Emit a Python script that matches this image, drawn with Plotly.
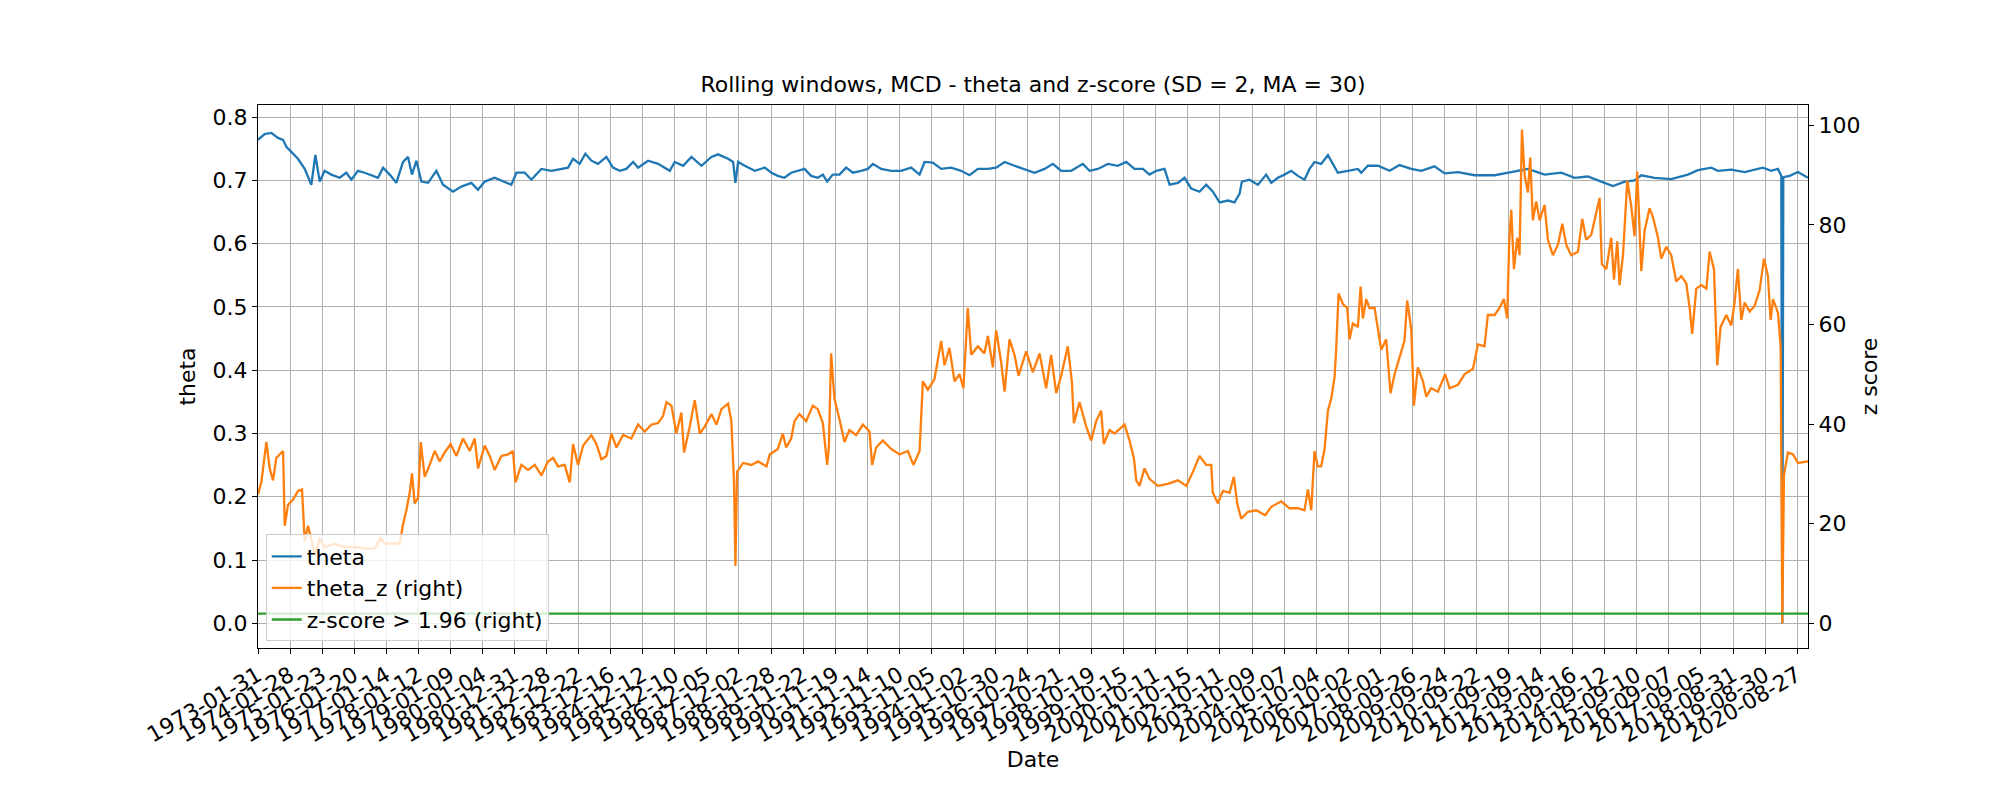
import plotly.graph_objects as go

# trading-day index (0 = 1973-01-31) and rolling theta
theta_day = [0, 52, 105, 157, 197, 223, 262, 314, 367, 419, 451, 485, 524, 576, 642, 694, 734, 786,
             838, 904, 943, 983, 1035, 1087, 1140, 1179, 1210, 1245, 1284, 1336, 1402, 1454, 1533,
             1598, 1677, 1729, 1782, 1860, 1939, 1991, 2031, 2096, 2148, 2227, 2306, 2384, 2437,
             2476, 2528, 2573, 2620, 2672, 2738, 2790, 2843, 2895, 2948, 2987, 3065, 3144, 3236,
             3275, 3341, 3406, 3485, 3563, 3616, 3694, 3734, 3752, 3773, 3825, 3904, 3982, 4035,
             4085, 4137, 4190, 4242, 4295, 4347, 4399, 4439, 4473, 4517, 4570, 4622, 4675, 4740,
             4792, 4832, 4897, 4976, 5054, 5133, 5199, 5238, 5303, 5369, 5447, 5526, 5592, 5657,
             5736, 5801, 5867, 5945, 6024, 6102, 6181, 6247, 6312, 6391, 6482, 6535, 6600, 6679,
             6757, 6823, 6888, 6954, 7006, 7059, 7124, 7164, 7229, 7281, 7334, 7399, 7452, 7504,
             7557, 7622, 7674, 7714, 7732, 7792, 7858, 7923, 7963, 8015, 8067, 8120,
             8172, 8224, 8264, 8303, 8355, 8408, 8447, 8486, 8565, 8644, 8670, 8722, 8801, 8893,
             8971, 9063, 9141, 9246, 9325, 9430, 9561, 9718, 9849, 9980, 10111, 10242, 10347,
             10451, 10556, 10648, 10740, 10818, 10871, 10975, 11106, 11237, 11316, 11421, 11473,
             11578, 11683, 11827, 11892, 11945, 11971, 11979, 11987, 12037, 12102, 12181]
theta_val = [0.764, 0.773, 0.775, 0.767, 0.764, 0.753, 0.745, 0.734, 0.718, 0.693, 0.740, 0.698,
             0.715, 0.709, 0.704, 0.712, 0.701, 0.715, 0.712, 0.707, 0.704, 0.720, 0.709, 0.696,
             0.729, 0.737, 0.709, 0.731, 0.698, 0.696, 0.715, 0.693, 0.682, 0.690, 0.696, 0.685,
             0.698, 0.704, 0.698, 0.693, 0.712, 0.712, 0.701, 0.718, 0.715, 0.718, 0.720, 0.734,
             0.726, 0.742, 0.731, 0.726, 0.737, 0.720, 0.715, 0.718, 0.729, 0.720, 0.731, 0.726,
             0.715, 0.729, 0.723, 0.737, 0.723, 0.737, 0.741, 0.734, 0.729, 0.696, 0.729, 0.723,
             0.715, 0.720, 0.712,
             0.707, 0.704, 0.712, 0.715, 0.718, 0.707, 0.704, 0.709, 0.698, 0.709, 0.709, 0.720,
             0.712, 0.715, 0.718, 0.726, 0.718, 0.715, 0.715, 0.720, 0.709, 0.729, 0.728, 0.718,
             0.720, 0.715, 0.708, 0.718, 0.718, 0.720, 0.729, 0.723, 0.718, 0.712, 0.718, 0.726,
             0.715, 0.715, 0.726, 0.715, 0.718, 0.726, 0.723, 0.729, 0.718, 0.718, 0.709, 0.715,
             0.718, 0.693, 0.696, 0.704, 0.687, 0.682, 0.693, 0.682, 0.665, 0.668, 0.665, 0.679,
             0.698, 0.701, 0.693, 0.709, 0.696, 0.704, 0.709, 0.715,
             0.707, 0.701, 0.718, 0.729, 0.726, 0.740, 0.726, 0.712, 0.715, 0.718, 0.712, 0.723,
             0.723, 0.715, 0.724, 0.718, 0.715, 0.722, 0.711, 0.713, 0.708, 0.708, 0.713, 0.718,
             0.709, 0.712, 0.704, 0.706, 0.698, 0.691, 0.698, 0.700, 0.708, 0.704, 0.702, 0.709,
             0.716, 0.720, 0.715, 0.717, 0.713, 0.720, 0.715, 0.718, 0.707, 0.0, 0.705, 0.707,
             0.713, 0.704]

# z-score of theta, same day index
z_day = [0, 26, 66, 92, 118, 144, 170, 197, 210, 236, 275, 314, 346, 367, 393, 419, 451, 485, 524,
         603, 681, 760, 838, 917, 964, 996, 1048, 1114, 1140, 1166, 1192, 1210, 1231, 1258, 1279,
         1310, 1349, 1389, 1428, 1467, 1514, 1559, 1611, 1664, 1703, 1729, 1782, 1821, 1860, 1913,
         1965, 2004, 2023, 2070, 2122, 2175, 2227, 2279, 2319, 2358, 2410, 2450, 2476, 2515, 2555,
         2620, 2659, 2699, 2738, 2777, 2817, 2869, 2934, 2987, 3039, 3092, 3144, 3183, 3210, 3249,
         3288, 3327, 3348, 3393, 3432, 3472, 3511, 3563, 3603, 3642, 3694, 3720, 3741, 3752, 3765,
         3812, 3878, 3930, 3996, 4022,
         4085, 4124, 4151, 4190, 4216, 4255, 4308, 4360, 4399, 4439, 4473, 4486, 4504, 4530, 4570,
         4609, 4648, 4701, 4753, 4806, 4826, 4858, 4910, 4976, 5041, 5107, 5151, 5199, 5225, 5264,
         5316, 5369, 5395, 5434, 5474, 5513, 5544, 5578, 5605, 5657, 5709, 5736, 5775, 5801, 5840,
         5867, 5906, 5945, 5977, 6037, 6089, 6142, 6194, 6233, 6273, 6312, 6364, 6396, 6412, 6456,
         6509, 6548, 6587, 6626, 6647, 6692, 6731, 6810, 6849, 6883, 6902, 6928, 6967, 7006, 7072,
         7150, 7229, 7295, 7347, 7399, 7452, 7491, 7504, 7543, 7583, 7635, 7669, 7695, 7727, 7779,
         7845, 7915, 7963, 8041, 8107, 8172,
         8224, 8251, 8277, 8303, 8329, 8355, 8382, 8408, 8434, 8460, 8473, 8492, 8526, 8560, 8578,
         8604, 8644, 8665, 8683, 8709, 8735, 8775, 8801, 8827, 8866, 8900, 8932, 8971, 9010, 9031,
         9063, 9084, 9115, 9155, 9181, 9220, 9272, 9330, 9364, 9430, 9482, 9548, 9587, 9639, 9665,
         9718, 9757, 9791, 9817, 9833, 9849, 9870, 9896, 9914, 9933, 9954, 9980, 9998, 10019,
         10045, 10072, 10111, 10137, 10176, 10216, 10250, 10281, 10320, 10373, 10407, 10438,
         10478, 10512, 10543, 10561, 10596, 10635, 10656, 10682, 10700, 10727, 10761, 10792,
         10818, 10839, 10871, 10897, 10936, 10962, 11002, 11028, 11067, 11106, 11146, 11185,
         11224, 11251, 11271, 11303, 11342, 11382, 11408, 11442, 11452, 11468, 11494, 11539,
         11578, 11604, 11630, 11657, 11683, 11722, 11761, 11801, 11835, 11866, 11887, 11906,
         11945, 11966, 11979, 11992, 12023, 12063, 12102, 12181]
z_val = [25.9, 28.3, 36.4, 31.1, 28.7, 33.2, 33.9, 34.6, 19.6, 23.8, 24.8, 26.6, 26.9, 16.4, 19.6,
         17.1, 13.6, 17.1, 15.3, 16.0, 15.3, 15.3, 15.0, 15.0, 17.1, 16.0, 16.0, 16.0, 19.9, 22.7,
         26.2, 30.1, 24.1, 25.2, 36.4, 29.4, 31.8, 34.6, 32.5, 34.3, 36.0, 33.6, 37.1, 34.6, 37.1,
         31.1, 35.7, 33.6, 30.8, 33.6, 33.9, 34.6, 28.3, 31.8, 30.8, 31.8, 29.7, 32.5, 33.2, 31.5,
         31.8, 28.3, 36.0, 31.8, 35.7, 37.8, 36.0, 32.9, 33.6, 38.1, 35.3, 37.8, 37.1, 39.9, 38.5,
         39.9, 40.2, 41.6, 44.4, 43.7, 38.1, 42.3, 34.3, 39.5, 44.8, 38.1, 39.5, 42.0, 39.9, 43.0,
         44.1, 40.6, 28.3, 11.5, 30.4, 32.2, 31.8, 32.5, 31.5, 33.9,
         35.0, 38.1, 35.3, 37.1, 40.6, 42.0, 40.6, 43.7, 43.0, 40.2, 31.8, 35.3, 54.2, 45.1, 40.9,
         36.4, 38.8, 37.8, 39.9, 38.5, 31.8, 35.3, 36.7, 35.0, 33.9, 34.6, 31.8, 34.6, 48.6, 46.9,
         49.0, 56.7, 51.8, 55.3, 48.6, 50.0, 47.2, 63.3, 53.9, 55.6, 54.2, 57.7, 51.4, 58.8, 52.5,
         46.5, 57.0, 53.9, 49.7, 54.6, 50.4, 54.2, 47.2, 53.9, 46.2, 49.7, 55.6, 48.6, 40.2, 44.4,
         39.5, 36.7, 40.6, 42.7, 36.0, 38.8, 38.1, 39.9, 36.7, 33.2, 28.7, 27.6, 31.1, 29.0, 27.6,
         28.0, 28.7, 27.6, 30.4, 33.6, 31.8, 31.8, 26.2, 24.1, 26.6, 26.2, 29.4, 24.1, 21.0, 22.4,
         22.7, 21.7, 23.4, 24.5, 23.1, 23.1,
         22.7, 26.9, 22.7, 34.6, 31.5, 31.5, 35.0, 42.7, 45.1, 49.3, 54.9, 66.2, 64.1, 63.3, 57.0,
         60.2, 59.5, 67.6, 61.2, 65.1, 63.3, 63.3, 59.1, 54.9, 57.0, 46.2, 50.0, 53.2, 56.7, 64.8,
         59.1, 43.7, 51.4, 48.6, 45.5, 47.2, 46.5, 50.0, 47.2, 47.9, 50.0, 51.1, 56.0, 55.6, 61.9,
         61.9, 63.3, 65.1, 61.2, 76.7, 83.0, 71.1, 77.4, 73.9, 99.1, 90.0, 86.5, 93.5, 80.9,
         84.7, 80.9, 84.0, 77.0, 73.9, 76.0, 80.2, 76.0, 73.9, 74.6, 81.2, 77.0,
         78.0, 81.9, 85.4, 72.1, 71.1, 77.4, 69.0, 76.7, 67.9, 73.9, 88.9, 83.7,
         77.7, 90.7, 70.7, 78.8, 83.3, 81.6, 77.4, 73.2, 75.6, 73.9, 68.6, 69.7,
         68.3, 63.3, 58.1, 67.2, 67.9, 67.2, 74.6, 71.1, 61.9, 51.8, 59.5, 61.9,
         59.8, 64.4, 71.1, 60.9, 64.4, 62.6, 63.7, 66.9, 73.2, 69.7, 60.9, 65.1,
         62.3, 55.6, 0.0, 29.7, 34.3, 33.9, 32.2, 32.5]

z_threshold = 1.96

# one label every 252 trading days
tick_day = list(range(0, 12097, 252))
tick_labels = ['1973-01-31', '1974-01-28', '1975-01-23', '1976-01-20', '1977-01-14', '1978-01-12',
               '1979-01-09', '1980-01-04', '1980-12-31', '1981-12-28', '1982-12-22', '1983-12-16',
               '1984-12-12', '1985-12-10', '1986-12-05', '1987-12-02', '1988-11-28', '1989-11-22',
               '1990-11-19', '1991-11-14', '1992-11-10', '1993-11-05', '1994-11-02', '1995-10-30',
               '1996-10-24', '1997-10-21', '1998-10-19', '1999-10-15', '2000-10-11', '2001-10-15',
               '2002-10-11', '2003-10-09', '2004-10-07', '2005-10-04', '2006-10-02', '2007-10-01',
               '2008-09-26', '2009-09-24', '2010-09-22', '2011-09-19', '2012-09-14', '2013-09-16',
               '2014-09-12', '2015-09-10', '2016-09-07', '2017-09-05', '2018-08-31', '2019-08-30',
               '2020-08-27']

FONT = 'DejaVu Sans'
FS = 22

fig = go.Figure()

fig.add_trace(go.Scatter(
    x=theta_day, y=theta_val, mode='lines', name='theta',
    line=dict(color='#1f77b4', width=2.3)
))
fig.add_trace(go.Scatter(
    x=z_day, y=z_val, mode='lines', name='theta_z (right)', yaxis='y2',
    line=dict(color='#ff7f0e', width=2.3)
))
fig.add_trace(go.Scatter(
    x=[z_day[0], z_day[-1]], y=[z_threshold, z_threshold], mode='lines',
    name='z-score > 1.96 (right)', yaxis='y2',
    line=dict(color='#2ca02c', width=2.3)
))

axis_common = dict(
    showline=True, linecolor='black', linewidth=1.2,
    ticks='outside', ticklen=5, tickcolor='black', tickwidth=1.2,
    tickfont=dict(size=FS, color='black', family=FONT),
    zeroline=False,
)

fig.update_layout(
    width=2000, height=800,
    margin=dict(l=250, r=200, t=97, b=160, autoexpand=False),
    paper_bgcolor='white', plot_bgcolor='white',
    font=dict(family=FONT, size=FS, color='black'),
    title=dict(text='Rolling windows, MCD - theta and z-score (SD = 2, MA = 30)',
               x=0.5, xref='paper', xanchor='center',
               y=1 - 76 / 800, yref='container', yanchor='middle',
               font=dict(size=FS, family=FONT, color='black')),
    xaxis=dict(
        axis_common,
        range=[0, 12181], tickmode='array', tickvals=tick_day, ticktext=tick_labels,
        tickangle=-30, mirror=True,
        showgrid=True, gridcolor='#b0b0b0', gridwidth=1,
        title=dict(text='Date', standoff=0, font=dict(size=FS, family=FONT)),
    ),
    yaxis=dict(
        axis_common,
        range=[-0.039, 0.819], tickmode='array',
        tickvals=[0.0, 0.1, 0.2, 0.3, 0.4, 0.5, 0.6, 0.7, 0.8], tickformat='.1f',
        showgrid=True, gridcolor='#b0b0b0', gridwidth=1,
        title=dict(text='theta', standoff=10, font=dict(size=FS, family=FONT)),
    ),
    yaxis2=dict(
        axis_common,
        overlaying='y', side='right',
        range=[-4.95, 104.05], tickmode='array', tickvals=[0, 20, 40, 60, 80, 100],
        showgrid=False,
        title=dict(text='z score', standoff=2, font=dict(size=FS, family=FONT)),
    ),
    legend=dict(
        x=0.005, y=0.012, xanchor='left', yanchor='bottom',
        bgcolor='rgba(255,255,255,0.8)', bordercolor='#cccccc', borderwidth=1,
        font=dict(size=FS, family=FONT, color='black'),
        tracegroupgap=0,
    ),
    showlegend=True,
)

fig.write_html("out.html")
